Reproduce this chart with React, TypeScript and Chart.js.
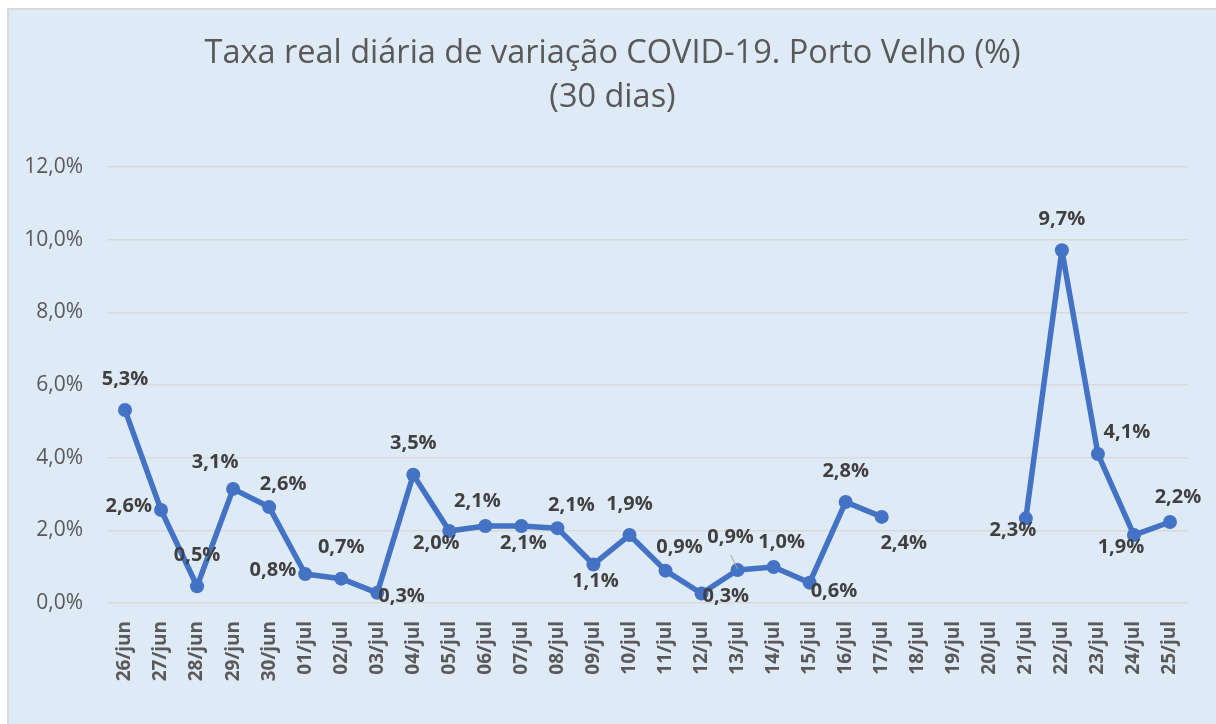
import React, { useEffect, useRef } from 'react';
import { Chart, registerables } from 'chart.js';

Chart.register(...registerables);

const categories = [
  '26/jun', '27/jun', '28/jun', '29/jun', '30/jun',
  '01/jul', '02/jul', '03/jul', '04/jul', '05/jul', '06/jul', '07/jul', '08/jul', '09/jul', '10/jul',
  '11/jul', '12/jul', '13/jul', '14/jul', '15/jul', '16/jul', '17/jul', '18/jul', '19/jul', '20/jul',
  '21/jul', '22/jul', '23/jul', '24/jul', '25/jul',
];

const rates: (number | null)[] = [
  5.31, 2.56, 0.46, 3.14, 2.64,
  0.8, 0.67, 0.28, 3.53, 1.98, 2.12, 2.12, 2.06, 1.06, 1.87,
  0.89, 0.26, 0.91, 0.99, 0.56, 2.78, 2.37, null, null, null,
  2.33, 9.71, 4.1, 1.87, 2.23,
];

// where each data label sits relative to its point
const labelPlacement = [
  'top', 'left', 'top', 'topLeft', 'topRight',
  'left', 'top', 'right', 'top', 'bottomLeft', 'topLeftNear', 'bottom', 'topRight', 'bottom', 'top',
  'topRight', 'right', 'topLeader', 'topRightNear', 'rightLow', 'top', 'bottomRight', '', '', '',
  'bottomLeft', 'top', 'topRightFar', 'bottomLeft', 'topRightNear',
];

const yMin = 0;
const yMax = 12;
const yStep = 2;

const titleLines = ['Taxa real diária de variação COVID-19. Porto Velho (%)', '(30 dias)'];

const FONT = "'Open Sans', 'Noto Sans', sans-serif";

const fmtPct = (v: number) => (Math.round(v * 10) / 10).toFixed(1).replace('.', ',') + '%';

const titlePlugin = {
  id: 'customTitle',
  beforeDraw(chart: any) {
    const { ctx, width } = chart;
    ctx.save();
    ctx.font = `400 32.5px ${FONT}`;
    ctx.fillStyle = '#595959';
    ctx.textAlign = 'center';
    ctx.textBaseline = 'alphabetic';
    ctx.fillText(titleLines[0], width / 2, 53);
    ctx.fillText(titleLines[1], width / 2, 97);
    ctx.restore();
  },
};

const placementOffsets: Record<string, [number, number]> = {
  top: [0, -31],
  topLeft: [-18, -27],
  topLeftNear: [-8, -25],
  topRight: [14, -23],
  topRightNear: [8, -25],
  topRightFar: [29, -22],
  bottom: [2, 17],
  bottomLeft: [-13, 12],
  bottomRight: [22, 26],
  topLeader: [-7, -33],
};

const dataLabelPlugin = {
  id: 'dataLabels',
  afterDatasetsDraw(chart: any) {
    const { ctx } = chart;
    const meta = chart.getDatasetMeta(0);
    ctx.save();
    ctx.font = `700 20px ${FONT}`;
    ctx.fillStyle = '#404040';
    ctx.textBaseline = 'middle';
    ctx.textAlign = 'center';
    meta.data.forEach((pt: any, i: number) => {
      const v = rates[i];
      if (v == null) return;
      const text = fmtPct(v);
      const w = ctx.measureText(text).width;
      const p = labelPlacement[i];
      let cx = pt.x;
      let cy = pt.y;
      if (p === 'left') {
        cx = pt.x - 9 - w / 2; cy = pt.y - 4;
      } else if (p === 'right') {
        cx = pt.x + 1 + w / 2; cy = pt.y + 3;
      } else if (p === 'rightLow') {
        cx = pt.x + 1 + w / 2; cy = pt.y + 9;
      } else if (placementOffsets[p]) {
        cx = pt.x + placementOffsets[p][0];
        cy = pt.y + placementOffsets[p][1];
      }
      if (p === 'topLeader') {
        ctx.save();
        ctx.strokeStyle = '#a6a6a6';
        ctx.lineWidth = 1;
        ctx.beginPath();
        ctx.moveTo(pt.x - 7, pt.y - 15);
        ctx.lineTo(pt.x, pt.y - 1);
        ctx.stroke();
        ctx.restore();
      }
      ctx.fillText(text, cx, cy);
    });
    ctx.restore();
  },
};

export default function App() {
  const canvasRef = useRef<HTMLCanvasElement | null>(null);

  useEffect(() => {
    if (!canvasRef.current) return;
    const chart = new Chart(canvasRef.current, {
      type: 'line',
      data: {
        labels: categories,
        datasets: [
          {
            data: rates,
            borderColor: '#4472c4',
            backgroundColor: '#4472c4',
            borderWidth: 5.5,
            pointRadius: 7,
            pointHoverRadius: 7,
            pointBorderWidth: 0,
            pointBackgroundColor: '#4472c4',
            borderCapStyle: 'round',
            borderJoinStyle: 'round',
            spanGaps: false,
            tension: 0,
          },
        ],
      },
      options: {
        animation: false,
        responsive: true,
        maintainAspectRatio: false,
        layout: { padding: { top: 157, right: 28, left: 0, bottom: 0 } },
        plugins: {
          legend: { display: false },
          title: { display: false },
          tooltip: { enabled: false },
        },
        scales: {
          x: {
            offset: true,
            grid: { display: false, drawTicks: false },
            border: { display: false },
            ticks: {
              autoSkip: false,
              maxRotation: 90,
              minRotation: 90,
              padding: 18,
              color: '#595959',
              font: { family: FONT, size: 19, weight: 'bold' },
            },
            afterFit: (scale: any) => { scale.height = 121; },
          },
          y: {
            min: yMin,
            max: yMax,
            ticks: {
              stepSize: yStep,
              padding: 24,
              color: '#595959',
              font: { family: FONT, size: 21 },
              callback: (v: any) => Number(v).toFixed(1).replace('.', ',') + '%',
            },
            grid: { color: '#d9d9d9', lineWidth: 1.5, drawTicks: false },
            border: { display: false },
            afterFit: (scale: any) => { scale.width = 98; },
          },
        },
      },
      plugins: [titlePlugin, dataLabelPlugin],
    });
    return () => chart.destroy();
  }, []);

  return (
    <div
      style={{
        position: 'absolute',
        left: 7,
        top: 8,
        width: 1209,
        height: 716,
        boxSizing: 'border-box',
        borderLeft: '2px solid #d9d9d9',
        borderTop: '2px solid #d9d9d9',
        background: '#deeaf6',
        overflow: 'hidden',
      }}
    >
      <canvas ref={canvasRef} />
    </div>
  );
}
